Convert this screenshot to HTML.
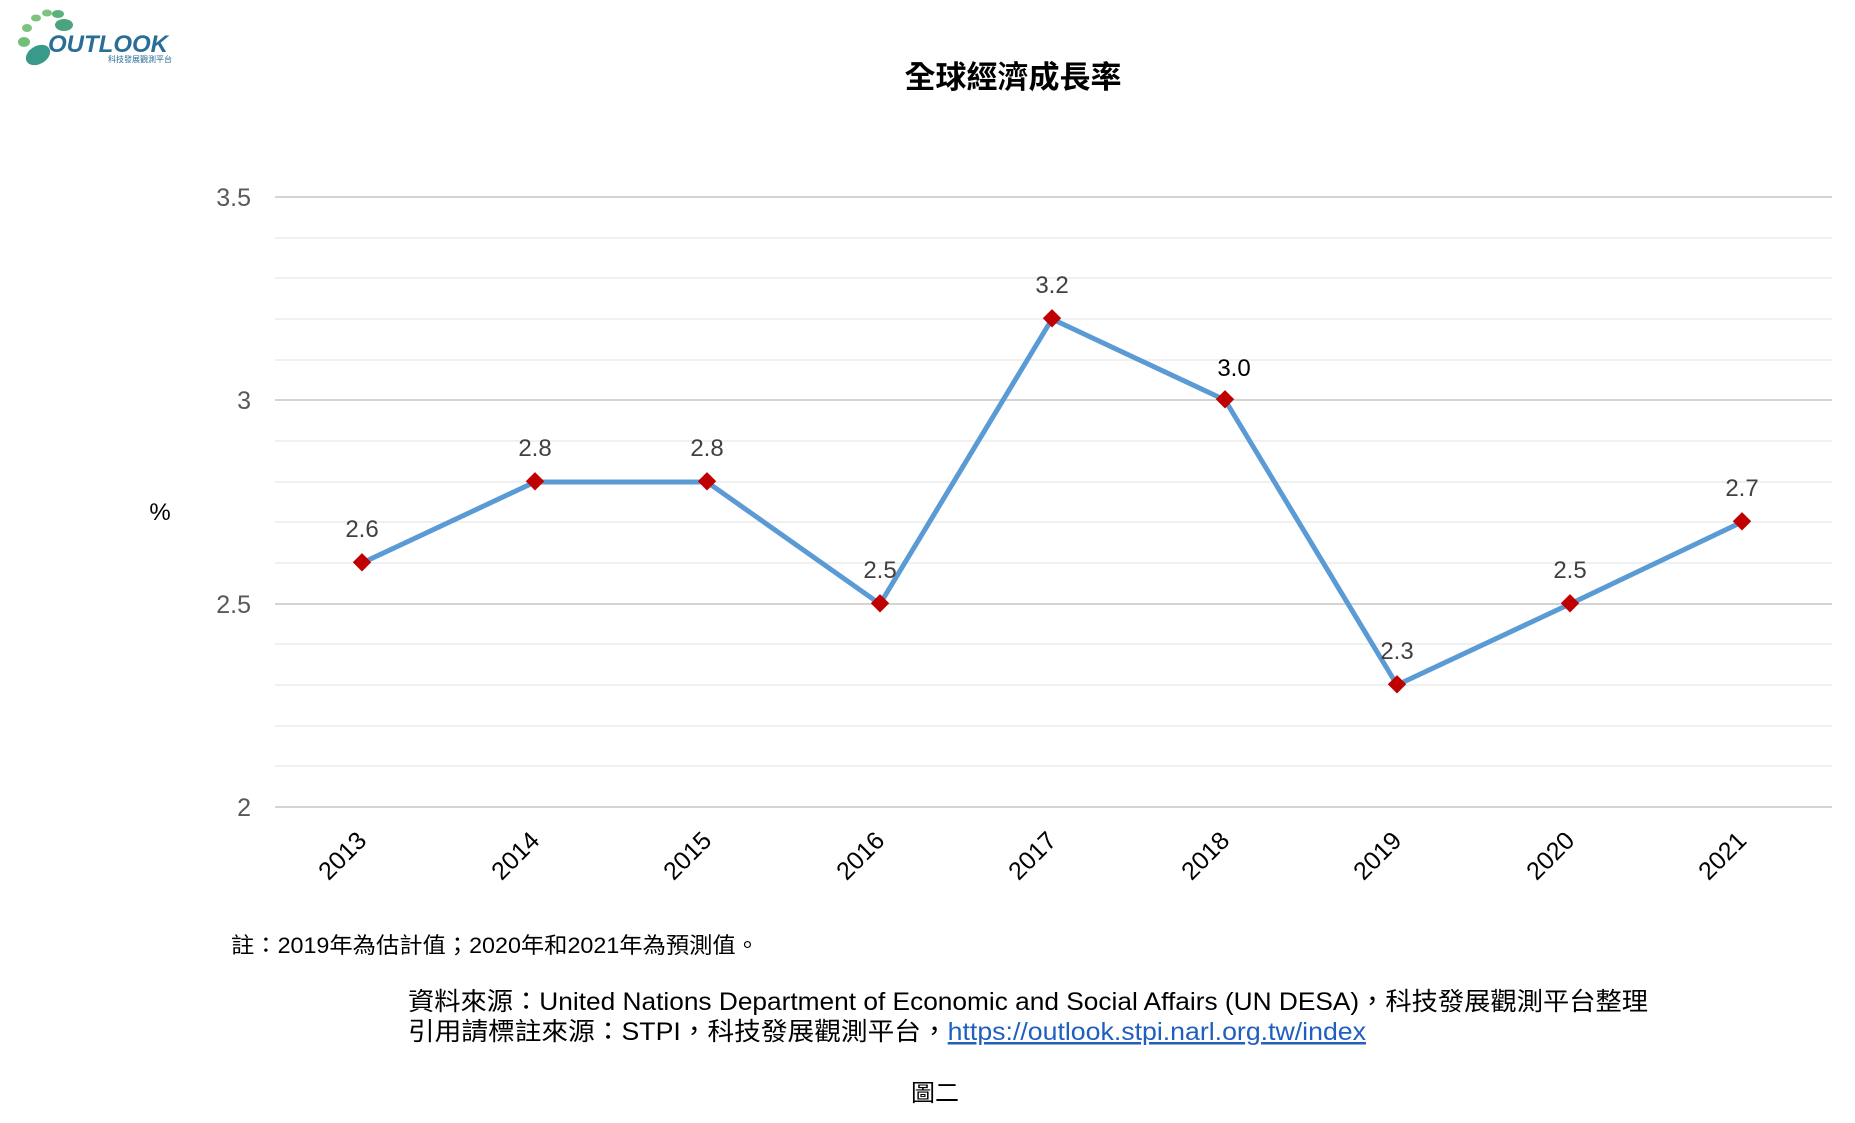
<!DOCTYPE html>
<html><head><meta charset="utf-8"><style>
body{margin:0;background:#fff;}
svg{display:block;font-family:"Liberation Sans","Noto Sans CJK TC",sans-serif;}
</style></head><body>
<svg width="1855" height="1123" viewBox="0 0 1855 1123" xmlns="http://www.w3.org/2000/svg">
<g>
<ellipse cx="38" cy="55" rx="13" ry="9" fill="#3a9a8a" transform="rotate(-30 38 55)"/>
<ellipse cx="24" cy="42" rx="6" ry="5" fill="#6fbf7a"/>
<ellipse cx="27" cy="28" rx="5" ry="4" fill="#7cc47e"/>
<ellipse cx="36" cy="18" rx="5" ry="3.5" fill="#7cc47e"/>
<ellipse cx="47" cy="13" rx="5" ry="3.5" fill="#7cc47e"/>
<ellipse cx="58" cy="14" rx="6" ry="4" fill="#5bb27a"/>
<ellipse cx="64" cy="25" rx="9" ry="6" fill="#4aa47e"/>
<text x="48" y="52" font-size="24" font-weight="bold" fill="#2a6e96" font-style="italic">OUTLOOK</text>
<text x="108" y="62" font-size="8" fill="#2a6e96">科技發展觀測平台</text>
</g>
<text x="1013" y="88" font-size="31" font-weight="bold" text-anchor="middle" fill="#000">全球經濟成長率</text>
<g stroke="#ececec" stroke-width="1.5">
<line x1="275" x2="1832" y1="238" y2="238"/><line x1="275" x2="1832" y1="278" y2="278"/>
<line x1="275" x2="1832" y1="319" y2="319"/><line x1="275" x2="1832" y1="360" y2="360"/>
<line x1="275" x2="1832" y1="441" y2="441"/><line x1="275" x2="1832" y1="482" y2="482"/>
<line x1="275" x2="1832" y1="522" y2="522"/><line x1="275" x2="1832" y1="563" y2="563"/>
<line x1="275" x2="1832" y1="644" y2="644"/><line x1="275" x2="1832" y1="685" y2="685"/>
<line x1="275" x2="1832" y1="726" y2="726"/><line x1="275" x2="1832" y1="766" y2="766"/>
</g>
<g stroke="#d4d4d4" stroke-width="2">
<line x1="275" x2="1832" y1="197" y2="197"/><line x1="275" x2="1832" y1="400" y2="400"/>
<line x1="275" x2="1832" y1="604" y2="604"/><line x1="275" x2="1832" y1="807" y2="807"/>
</g>
<g font-size="25" fill="#595959" text-anchor="end">
<text x="251" y="206">3.5</text><text x="251" y="409">3</text>
<text x="251" y="613">2.5</text><text x="251" y="816">2</text>
</g>
<text x="160" y="520" font-size="24" fill="#000" text-anchor="middle">%</text>
<polyline fill="none" stroke="#5b9bd5" stroke-width="5" stroke-linejoin="round" points="362,563 535,482 707,482 880,604 1052,319 1225,400 1397,685 1570,604 1742,522"/>
<g fill="#c00000">
<rect x="355" y="556" width="13" height="13" transform="rotate(45 362 563)"/>
<rect x="528" y="475" width="13" height="13" transform="rotate(45 535 482)"/>
<rect x="700" y="475" width="13" height="13" transform="rotate(45 707 482)"/>
<rect x="873" y="597" width="13" height="13" transform="rotate(45 880 604)"/>
<rect x="1045" y="312" width="13" height="13" transform="rotate(45 1052 319)"/>
<rect x="1218" y="393" width="13" height="13" transform="rotate(45 1225 400)"/>
<rect x="1390" y="678" width="13" height="13" transform="rotate(45 1397 685)"/>
<rect x="1563" y="597" width="13" height="13" transform="rotate(45 1570 604)"/>
<rect x="1735" y="515" width="13" height="13" transform="rotate(45 1742 522)"/>
</g>
<g font-size="24" fill="#404040" text-anchor="middle">
<text x="362" y="537">2.6</text><text x="535" y="456">2.8</text><text x="707" y="456">2.8</text>
<text x="880" y="578">2.5</text><text x="1052" y="293">3.2</text><text x="1234" y="376" fill="#000">3.0</text>
<text x="1397" y="659">2.3</text><text x="1570" y="578">2.5</text><text x="1742" y="496">2.7</text>
</g>
<g font-size="25" fill="#000" text-anchor="end">
<text transform="translate(368 842) rotate(-45)">2013</text>
<text transform="translate(541 842) rotate(-45)">2014</text>
<text transform="translate(713 842) rotate(-45)">2015</text>
<text transform="translate(886 842) rotate(-45)">2016</text>
<text transform="translate(1058 842) rotate(-45)">2017</text>
<text transform="translate(1231 842) rotate(-45)">2018</text>
<text transform="translate(1403 842) rotate(-45)">2019</text>
<text transform="translate(1576 842) rotate(-45)">2020</text>
<text transform="translate(1748 842) rotate(-45)">2021</text>
</g>
<text x="231" y="953" font-size="22" fill="#000" textLength="528" lengthAdjust="spacingAndGlyphs">註：2019年為估計值；2020年和2021年為預測值。</text>
<text x="408" y="1010" font-size="25" fill="#000" textLength="1240" lengthAdjust="spacingAndGlyphs">資料來源：United Nations Department of Economic and Social Affairs (UN DESA)，科技發展觀測平台整理</text>
<text x="408" y="1040" font-size="25" fill="#000" textLength="958" lengthAdjust="spacingAndGlyphs">引用請標註來源：STPI，科技發展觀測平台，<tspan fill="#1f5fbf" text-decoration="underline">https://outlook.stpi.narl.org.tw/index</tspan></text>
<text x="935" y="1101" font-size="24" fill="#000" text-anchor="middle">圖二</text>
</svg>
</body></html>
